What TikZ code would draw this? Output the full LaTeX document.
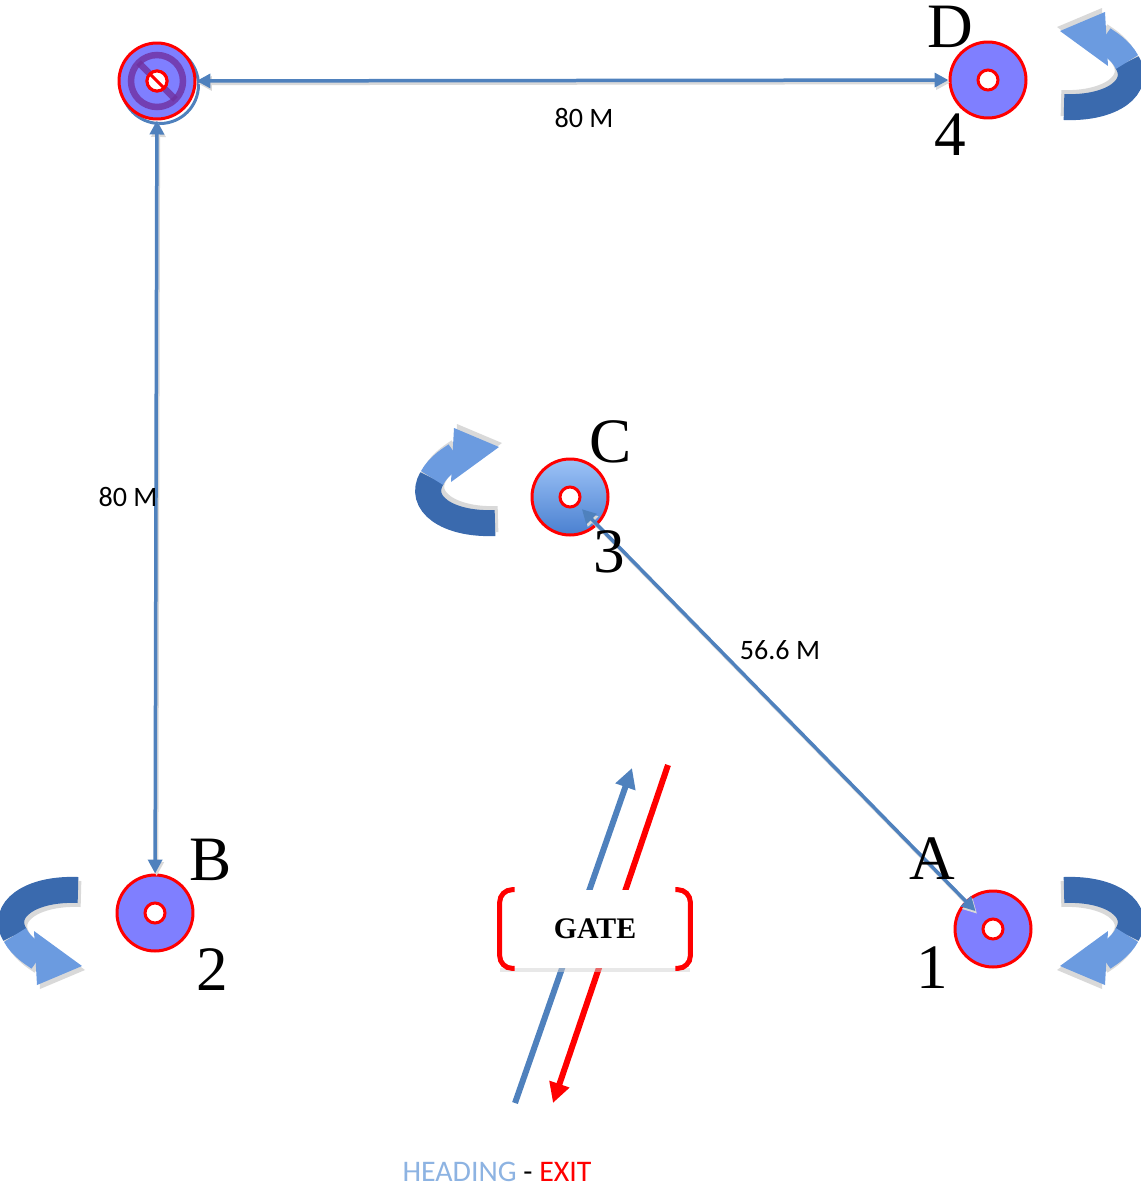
\documentclass[tikz,border=0pt]{standalone}
\usepackage{fontspec}
\setmainfont{Liberation Serif}
\newfontfamily\calibri{Carlito}
\usepackage{xcolor}
\definecolor{4f81bd}{HTML}{4F81BD}
\definecolor{7f7fff}{HTML}{7F7FFF}
\definecolor{3a6aae}{HTML}{3A6AAE}
\definecolor{6b9be0}{HTML}{6B9BE0}
\definecolor{8db3e2}{HTML}{8DB3E2}
\definecolor{7030a0}{HTML}{7030A0}
\definecolor{9dc3f7}{HTML}{9DC3F7}
\definecolor{4a80d0}{HTML}{4A80D0}
\usetikzlibrary{arrows.meta}
\usetikzlibrary{shadows}

\begin{document}
\begin{tikzpicture}[x=0.02cm, y=-0.02cm,
    donut/.style={circle, draw=red, line width=0.06cm, fill=7f7fff, minimum size=1.52cm,
        path picture={\draw[red, line width=0.06cm, fill=white] (path picture bounding box.center) circle (0.2cm);}},
    link/.style={draw=4f81bd, line width=0.07cm,
        {Triangle[length=0.28cm,width=0.28cm]}-{Triangle[length=0.28cm,width=0.28cm]},
        preaction={draw=gray!30, line width=0.07cm, transform canvas={shift={(0.03cm,-0.05cm)}}}},
    letter/.style={inner sep=0pt, font=\fontsize{36}{36}\selectfont},
    dist/.style={font=\calibri\fontsize{16}{16}\selectfont},
    bracket/.style={draw=red, line width=0.1cm, rounded corners=0.25cm},
    turn/.pic={
        % shadow first
        \begin{scope}[shift={(3,4)}, gray!30]
            \draw[line width=0.52cm] (37,-41) .. controls (-11,-43) and (-41,-21) .. (-26,4)
                .. controls (-19,17) and (-6,24) .. (-2,27);
            \fill (-7,0) -- (41,35) -- (-4,54) -- cycle;
        \end{scope}
        \draw[line width=0.52cm, 3a6aae] (37,-41) .. controls (-11,-43) and (-41,-21) .. (-26,4);
        \draw[line width=0.52cm, 6b9be0] (-26,4) .. controls (-19,17) and (-6,24) .. (-2,27);
        \fill[6b9be0] (-7,0) -- (41,35) -- (-4,54) -- cycle;
    }]
    \useasboundingbox (0,0) rectangle (1141,1187);

    % start point, crossed out
    \draw[4f81bd, line width=0.06cm] (160,85) circle (0.77cm);
    \node (X) at (157,81) [donut] {};
    \draw[7030a0, opacity=0.8, line width=0.13cm] (X.center) circle (0.52cm);
    \draw[7030a0, opacity=0.8, line width=0.13cm]
        ([shift={(135:0.52cm)}]X.center) -- ([shift={(-45:0.52cm)}]X.center);
    \draw[red, line width=0.06cm, fill=white] (X.center) circle (0.2cm);
    \draw[red, line width=0.06cm]
        ([shift={(135:0.2cm)}]X.center) -- ([shift={(-45:0.2cm)}]X.center);

    \node (D) at (988,80) [donut] {};
    \node (C) at (570,497) [donut, top color=9dc3f7, bottom color=4a80d0] {};
    \node (B) at (155,913) [donut] {};
    \node (A) at (993,929) [donut] {};

    \draw[link] (X) -- (D);
    \draw[link] (X) -- (B);
    \draw[link, shorten <=0.34cm, shorten >=0.5cm] (C.center) -- (A.center);

    \node (d1) at (584,118) [dist] {80 M};
    \node (d2) at (128,497) [dist] {80 M};
    \node (d3) at (780,650) [dist] {56.6 M};

    \node (lD) at (950,27) [letter] {D};
    \node (nD) at (950,135) [letter] {4};
    \node (lC) at (611,442) [letter] {C};
    \node (nC) at (609,552) [letter] {3};
    \node (lB) at (211,860) [letter] {B};
    \node (nB) at (212,970) [letter] {2};
    \node (lA) at (932,859) [letter] {A};
    \node (nA) at (932,968) [letter] {1};

    % turning arrows
    \pic at (41,931) {turn};
    \pic[xscale=-1] at (1101,931) {turn};
    \pic[yscale=-1] at (458,482) {turn};
    \pic[xscale=-1, yscale=-1] at (1101,66) {turn};

    % gate
    \coordinate (hin) at (515,1103);
    \coordinate (hout) at (632,768);
    \coordinate (xin) at (668,765);
    \coordinate (xout) at (553,1103);
    \draw[4f81bd, line width=0.12cm, -{Triangle[length=0.4cm,width=0.4cm]}] (hin) -- (hout);
    \draw[red, line width=0.12cm, -{Triangle[length=0.4cm,width=0.4cm]}] (xin) -- (xout);

    \node (gate) at (595,929) [fill=white, minimum width=3.8cm, minimum height=1.56cm,
        drop shadow={shadow xshift=0pt, shadow yshift=-0.08cm, fill=gray!35},
        font=\bfseries\fontsize{17}{17}\selectfont] {GATE};
    \draw[bracket] ([xshift=0.3cm]gate.north west) -- (gate.north west)
        -- (gate.south west) -- ([xshift=0.3cm]gate.south west);
    \draw[bracket] ([xshift=-0.3cm]gate.north east) -- (gate.north east)
        -- (gate.south east) -- ([xshift=-0.3cm]gate.south east);

    \node (key) at (497,1172) [font=\calibri\fontsize{17}{17}\selectfont]
        {\textcolor{8db3e2}{HEADING} - \textcolor{red}{EXIT}};
\end{tikzpicture}
\end{document}
